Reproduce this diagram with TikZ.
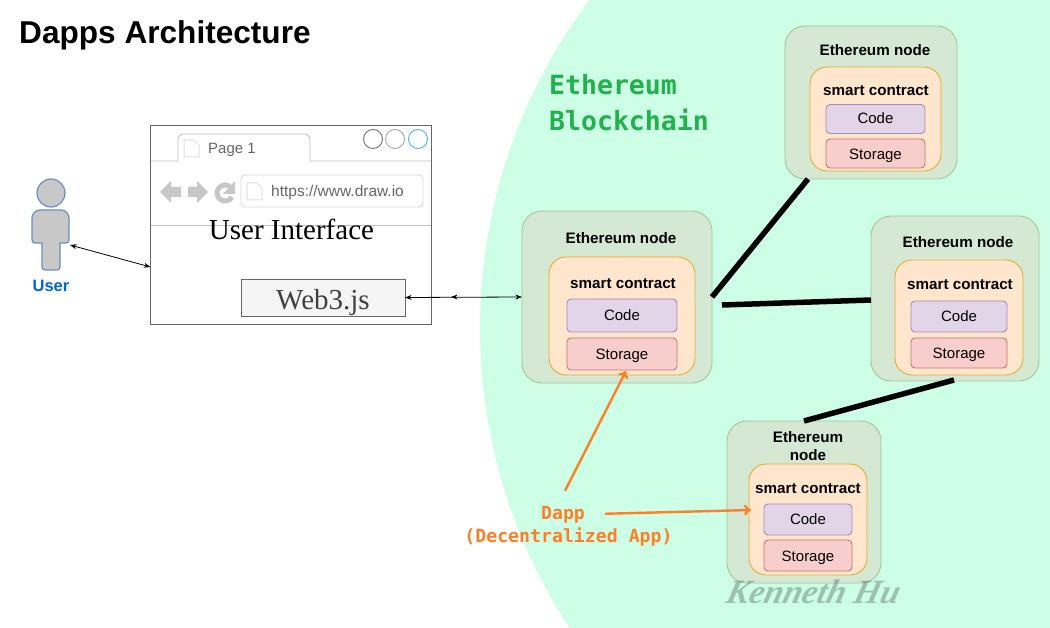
\documentclass[tikz,border=0pt]{standalone}
\usepackage{fontspec}
\setmainfont{Liberation Sans}
\newfontfamily\serifface{Liberation Serif}
\newfontfamily\monoface{DejaVu Sans Mono}
\usetikzlibrary{arrows.meta}
\definecolor{chainbg}{HTML}{CCFFE6}
\definecolor{chaintext}{HTML}{22B14C}
\definecolor{dappcolor}{HTML}{FF7F27}
\definecolor{ethfill}{HTML}{D5E8D4}
\definecolor{ethline}{HTML}{A3C795}
\definecolor{contractfill}{HTML}{FFE6CC}
\definecolor{contractline}{HTML}{E6AC2E}
\definecolor{codefill}{HTML}{E1D5E7}
\definecolor{codeline}{HTML}{A98BBB}
\definecolor{storagefill}{HTML}{F8CECC}
\definecolor{storageline}{HTML}{C9736F}
\definecolor{userline}{HTML}{6C8EBF}
\definecolor{userfill}{HTML}{C8C8C8}
\definecolor{userblue}{HTML}{0066CC}
\definecolor{btnblue}{HTML}{4DB0F0}
\newcommand{\pageicon}[2]{\draw[iconline] (#1,#2) -- ++(0,-17) -- ++(10,0) -- ++(5,5) -- ++(0,12) -- cycle;}
\begin{document}
\begin{tikzpicture}[x=1pt,y=-1pt,
    box/.style 2 args = {rectangle,inner sep=0pt,outer sep=0pt,minimum width=#1,minimum height=#2},
    ethnode/.style = {draw=ethline,fill=ethfill,line width=0.9pt,rounded corners=20pt},
    contractbox/.style = {draw=contractline,fill=contractfill,line width=0.9pt,rounded corners=17pt},
    codebox/.style = {draw=codeline,fill=codefill,line width=0.9pt,rounded corners=4pt,text height=12pt,text depth=2pt,font=\fontsize{15}{17}\selectfont},
    storagebox/.style = {draw=storageline,fill=storagefill,line width=0.9pt,rounded corners=4pt,text height=13pt,text depth=1.5pt,font=\fontsize{15}{17}\selectfont},
    boldlabel/.style = {inner sep=0pt,align=center,font=\fontsize{15.2}{18}\selectfont\bfseries},
    edge/.style = {<->,>=Stealth,line width=0.8pt},
    link/.style = {line width=5.5pt,black},
    dapparrow/.style = {->,>={To[length=7pt,width=11pt]},line width=2.4pt,dappcolor},
    iconline/.style = {draw=black!12,line width=1pt},
    uiline/.style = {draw=black!25,line width=0.9pt},
    winbtn/.style = {circle,line width=0.9pt,minimum size=19pt,inner sep=0pt},
    userpart/.style = {draw=userline,fill=userfill,line width=1.2pt},
    navicon/.style = {fill=black!22,draw=none}]
    \useasboundingbox (0,0) rectangle (1050,628);
    \clip (0,0) rectangle (1050,628);
    \fill[white] (0,0) rectangle (1050,628);
    \fill[chainbg] (1025,328) circle (545);

    % title and blockchain label
    \node[anchor=west,inner sep=0pt,font=\fontsize{31.6}{36}\selectfont\bfseries] (title) at (19,35) {Dapps Architecture};
    \node[anchor=west,inner sep=0pt,align=left,text=chaintext,font=\fontsize{26.5}{36}\selectfont\monoface\bfseries] (chain) at (549,103) {Ethereum\\Blockchain};

    % user
    \node[circle,userpart,minimum size=28pt,inner sep=0pt] (userHead) at (51,193) {};
    \draw[userpart] (60,243) [rounded corners=3pt] -- (69,243) [rounded corners=8pt] -- (69,210) -- (32,210) [rounded corners=3pt] -- (32,243) [sharp corners] -- (42,243) [rounded corners=3pt] -- (42,270) -- (60,270) [sharp corners] -- cycle;
    \coordinate (userHand) at (70,245);
    \node[inner sep=0pt,text=userblue,font=\fontsize{16.5}{18}\selectfont\bfseries] (userLabel) at (51,286) {User};

    % browser window
    \node[box={281pt}{199pt},draw=black!60,fill=white,line width=0.9pt] (browser) at (291,224.5) {};
    \draw[uiline] (151,161) -- (178,161) [rounded corners=5pt] -- (178,134) -- (310,134) [sharp corners] -- (310,161) -- (431,161);
    \draw[uiline] (151,225) -- (431,225);
    \node[winbtn,draw=black!55] (btnA) at (373,139) {};
    \node[winbtn,draw=black!35] (btnB) at (395,139) {};
    \node[winbtn,draw=btnblue] (btnC) at (418,139) {};
    \pageicon{184}{157}
    \node[anchor=west,inner sep=0pt,text=black!60,font=\fontsize{15}{17}\selectfont] (tabLabel) at (208,149.5) {Page 1};
    \fill[navicon] (160,192) -- (171,181) -- (171,187) -- (181,187) -- (181,197) -- (171,197) -- (171,203) -- cycle;
    \fill[navicon] (208,192) -- (197,181) -- (197,187) -- (188,187) -- (188,197) -- (197,197) -- (197,203) -- cycle;
    \draw[black!22,line width=5pt] (232,197) arc (30:325:8);
    \fill[navicon] (235,181) -- (235,194) -- (223,194) -- cycle;
    \node[box={182pt}{32pt},draw=black!15,fill=white,line width=0.9pt,rounded corners=4pt] (address) at (332,191) {};
    \pageicon{247}{200}
    \node[anchor=west,inner sep=0pt,text=black!60,font=\fontsize{15.5}{17}\selectfont] (url) at (271,192.5) {https://www.draw.io};
    \node[inner sep=0pt,font=\fontsize{29}{30}\selectfont\serifface] (ui) at (291.5,229) {User Interface};
    \node[box={164pt}{37pt},draw=black!60,fill=black!4,line width=0.9pt,text=black!75,text height=29pt,text depth=4pt,font=\fontsize{29}{30}\selectfont\serifface] (web3) at (323,297.5) {Web3.js};

    % smart contract nodes
    \node[box={172pt}{153pt},ethnode] (nodeTop) at (871,102.5) {};
    \node[box={131pt}{104pt},contractbox] (contractTop) at (875.5,119) {};
    \node[boldlabel] (titleTop) at (875,50) {Ethereum node};
    \node[boldlabel] (smartTop) at (876,91) {smart contract};
    \node[box={99pt}{29pt},codebox] (codeTop) at (875.5,119) {Code};
    \node[box={99pt}{29pt},storagebox] (storageTop) at (875.5,153.5) {Storage};

    \node[box={190pt}{172pt},ethnode] (nodeLeft) at (617,297) {};
    \node[box={146pt}{118pt},contractbox] (contractLeft) at (622,316) {};
    \node[boldlabel] (titleLeft) at (621,238) {Ethereum node};
    \node[boldlabel] (smartLeft) at (623,284) {smart contract};
    \node[box={110pt}{33pt},codebox] (codeLeft) at (622,315.5) {Code};
    \node[box={110pt}{32pt},storagebox] (storageLeft) at (622,354) {Storage};

    \node[box={168pt}{165pt},ethnode] (nodeRight) at (955,298.5) {};
    \node[box={128pt}{115pt},contractbox] (contractRight) at (959,317.5) {};
    \node[boldlabel] (titleRight) at (958,242) {Ethereum node};
    \node[boldlabel] (smartRight) at (960,285) {smart contract};
    \node[box={96pt}{31pt},codebox] (codeRight) at (959,316.5) {Code};
    \node[box={96pt}{30pt},storagebox] (storageRight) at (959,353) {Storage};

    \node[box={154pt}{162pt},ethnode] (nodeBottom) at (804,502) {};
    \node[box={118pt}{111pt},contractbox] (contractBottom) at (808,519.5) {};
    \node[boldlabel] (titleBottom) at (808,446) {Ethereum\\node};
    \node[boldlabel] (smartBottom) at (808,489) {smart contract};
    \node[box={88pt}{31pt},codebox] (codeBottom) at (808,519.5) {Code};
    \node[box={88pt}{31pt},storagebox] (storageBottom) at (808,555.5) {Storage};

    % links between the nodes
    \draw[link] ([xshift=23pt]nodeTop.south west) to (nodeLeft.east);
    \draw[link] ([xshift=10pt,yshift=-8pt]nodeLeft.east) to ([yshift=-1.5pt]nodeRight.west);
    \draw[link] ([xshift=-1pt,yshift=1pt]nodeRight.south) to (nodeBottom.north);

    % access arrows
    \coordinate (midArrow) at (451,297);
    \draw[edge] (userHand) to ([yshift=-42.5pt]browser.west);
    \draw[edge] (web3.east) to (nodeLeft.west);
    \draw[edge,<-] (midArrow) to ++(5,0);

    % dapp label
    \node[inner sep=0pt,align=center,text=dappcolor,font=\fontsize{18.2}{23}\selectfont\monoface\bfseries] (dapp) at (568.5,526) {Dapp\phantom{x}\\(Decentralized App)};
    \draw[dapparrow] ([xshift=-3.5pt,yshift=15pt]dapp.north) to ([xshift=4pt,yshift=-1pt]storageLeft.south);
    \draw[dapparrow] ([xshift=36.5pt,yshift=-8pt]dapp.north) to ([xshift=2pt,yshift=9.5pt]contractBottom.west);

    % watermark
    \node[inner sep=0pt,opacity=0.3,text=black!80,xslant=0.25,font=\fontsize{34}{36}\selectfont\serifface\bfseries\itshape] (mark) at (814,592) {Kenneth Hu};
\end{tikzpicture}
\end{document}
